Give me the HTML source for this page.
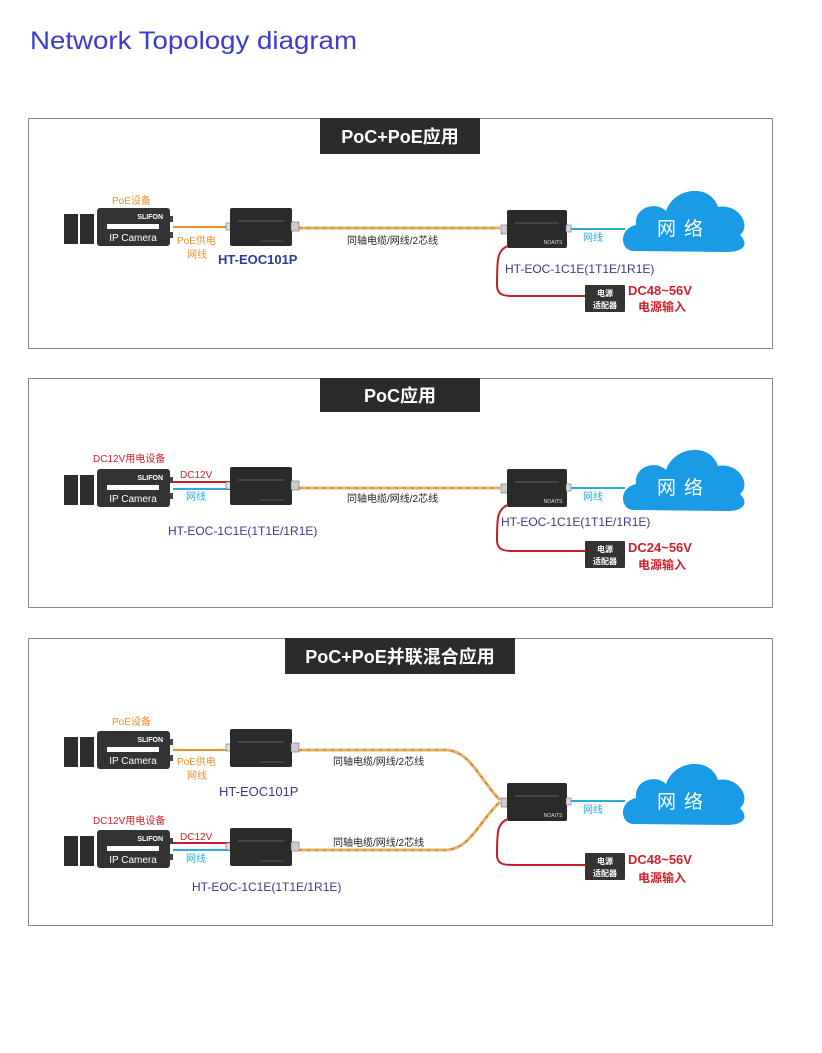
<!DOCTYPE html>
<html><head><meta charset="utf-8"><style>
html,body{margin:0;padding:0;background:#fff;width:822px;height:1053px;overflow:hidden}
svg{display:block}
text{font-family:"Liberation Sans","Noto Sans CJK SC",sans-serif}
</style></head><body>
<svg width="822" height="1053" viewBox="0 0 822 1053" xmlns="http://www.w3.org/2000/svg">
<defs>
<g id="cam">
<rect x="-33" y="6" width="14" height="30" fill="#2c2c2c"/>
<rect x="-17" y="6" width="14" height="30" fill="#2c2c2c"/>
<rect x="0" y="0" width="73" height="38" rx="3" fill="#333"/>
<rect x="73" y="8" width="3" height="6" fill="#444"/>
<rect x="73" y="24" width="3" height="6" fill="#444"/>
<rect x="10" y="16" width="52" height="5" fill="#fff"/>
<text x="66" y="11" font-size="7" fill="#fff" text-anchor="end" font-weight="bold">SLIFON</text>
<text x="36" y="33" font-size="10" fill="#fff" text-anchor="middle">IP Camera</text>
</g>
<g id="dev">
<rect x="-4" y="15" width="5" height="7" fill="#ddd" stroke="#555" stroke-width="0.5"/>
<rect x="0" y="0" width="62" height="38" rx="2" fill="#2a2a2a"/>
<rect x="61" y="14" width="8" height="9" fill="#ccc" stroke="#555" stroke-width="0.5"/>
<line x1="8" y1="13" x2="54" y2="13" stroke="#777" stroke-width="0.7"/>
<line x1="30" y1="33" x2="54" y2="33" stroke="#666" stroke-width="0.7"/>
</g>
<g id="devR">
<rect x="-6" y="15" width="7" height="9" fill="#ccc" stroke="#555" stroke-width="0.5"/>
<rect x="0" y="0" width="60" height="38" rx="2" fill="#2a2a2a"/>
<rect x="59" y="15" width="5" height="7" fill="#ddd" stroke="#555" stroke-width="0.5"/>
<line x1="8" y1="13" x2="52" y2="13" stroke="#777" stroke-width="0.7"/>
<text x="46" y="34" font-size="5" fill="#ddd" text-anchor="middle">NOAITS</text>
</g>
<g id="cloud">
<path d="M14,66 C0,66 -2,44 16,40 C14,22 36,16 46,26 C54,2 90,-2 98,22 C118,18 132,40 120,50 C130,60 122,67 108,67 Z" fill="#1a9be6"/>
<text x="64" y="50" font-size="19" fill="#fff" text-anchor="middle" letter-spacing="8">网络</text>
</g>
<g id="pwr">
<rect x="0" y="0" width="40" height="27" rx="1" fill="#333"/>
<text x="20" y="11" font-size="8" fill="#fff" text-anchor="middle" font-weight="bold">电源</text>
<text x="20" y="23" font-size="8" fill="#fff" text-anchor="middle" font-weight="bold">适配器</text>
</g>
</defs>

<text x="30" y="49" font-size="25" fill="#3b3bcc" textLength="327" lengthAdjust="spacingAndGlyphs">Network Topology diagram</text>

<!-- Panel 1 -->
<rect x="28.5" y="118.5" width="744" height="230" fill="#fff" stroke="#888"/>
<rect x="320" y="118" width="160" height="36" fill="#2b2b2b"/>
<text x="400" y="143" font-size="18" fill="#fff" text-anchor="middle" font-weight="bold">PoC+PoE应用</text>
<use href="#cam" x="97" y="208"/>
<text x="112" y="204" font-size="10" fill="#e8912e">PoE设备</text>
<line x1="173" y1="227" x2="230" y2="227" stroke="#f0902a" stroke-width="2"/>
<text x="177" y="244" font-size="10" fill="#e8912e">PoE供电</text>
<text x="187" y="258" font-size="10" fill="#e8912e">网线</text>
<line x1="299" y1="228" x2="500" y2="228" stroke="#e8b060" stroke-width="3"/>
<line x1="299" y1="228" x2="500" y2="228" stroke="#8a6a40" stroke-width="0.8" stroke-dasharray="3 5"/>
<use href="#dev" x="230" y="208"/>
<text x="218" y="264" font-size="13" fill="#2b3aa0" font-weight="bold">HT-EOC101P</text>
<text x="347" y="244" font-size="10" fill="#222">同轴电缆/网线/2芯线</text>
<use href="#devR" x="507" y="210"/>
<line x1="571" y1="229" x2="625" y2="229" stroke="#2aaad8" stroke-width="2"/>
<text x="583" y="241" font-size="10" fill="#2aaad8">网线</text>
<use href="#cloud" x="620" y="185"/>
<path d="M508,246 C497,250 497,260 497,285 C497,296 505,296 515,296 L585,296" fill="none" stroke="#c0202a" stroke-width="2"/>
<text x="505" y="273" font-size="12" fill="#3a3a8a">HT-EOC-1C1E(1T1E/1R1E)</text>
<use href="#pwr" x="585" y="285"/>
<text x="628" y="295" font-size="13" fill="#d0202a" font-weight="bold">DC48~56V</text>
<text x="638" y="311" font-size="12" fill="#d0202a" font-weight="bold">电源输入</text>

<!-- Panel 2 -->
<rect x="28.5" y="378.5" width="744" height="229" fill="#fff" stroke="#888"/>
<rect x="320" y="378" width="160" height="34" fill="#2b2b2b"/>
<text x="400" y="402" font-size="18" fill="#fff" text-anchor="middle" font-weight="bold">PoC应用</text>
<use href="#cam" x="97" y="469"/>
<text x="93" y="462" font-size="10" fill="#d0202a">DC12V用电设备</text>
<line x1="173" y1="482" x2="230" y2="482" stroke="#c0202a" stroke-width="2"/>
<line x1="173" y1="489" x2="230" y2="489" stroke="#2aaad8" stroke-width="2"/>
<text x="180" y="478" font-size="10" fill="#d0202a">DC12V</text>
<text x="186" y="500" font-size="10" fill="#2aaad8">网线</text>
<line x1="299" y1="488" x2="500" y2="488" stroke="#e8b060" stroke-width="3"/>
<line x1="299" y1="488" x2="500" y2="488" stroke="#8a6a40" stroke-width="0.8" stroke-dasharray="3 5"/>
<use href="#dev" x="230" y="467"/>
<text x="168" y="535" font-size="12" fill="#3a3a8a">HT-EOC-1C1E(1T1E/1R1E)</text>
<text x="347" y="502" font-size="10" fill="#222">同轴电缆/网线/2芯线</text>
<use href="#devR" x="507" y="469"/>
<line x1="571" y1="488" x2="625" y2="488" stroke="#2aaad8" stroke-width="2"/>
<text x="583" y="500" font-size="10" fill="#2aaad8">网线</text>
<use href="#cloud" x="620" y="444"/>
<path d="M508,505 C497,509 497,519 497,540 C497,551 505,551 515,551 L585,551" fill="none" stroke="#c0202a" stroke-width="2"/>
<text x="501" y="526" font-size="12" fill="#3a3a8a">HT-EOC-1C1E(1T1E/1R1E)</text>
<use href="#pwr" x="585" y="541"/>
<text x="628" y="552" font-size="13" fill="#d0202a" font-weight="bold">DC24~56V</text>
<text x="638" y="569" font-size="12" fill="#d0202a" font-weight="bold">电源输入</text>

<!-- Panel 3 -->
<rect x="28.5" y="638.5" width="744" height="287" fill="#fff" stroke="#888"/>
<rect x="285" y="638" width="230" height="36" fill="#2b2b2b"/>
<text x="400" y="663" font-size="18" fill="#fff" text-anchor="middle" font-weight="bold">PoC+PoE并联混合应用</text>
<use href="#cam" x="97" y="731"/>
<text x="112" y="725" font-size="10" fill="#e8912e">PoE设备</text>
<line x1="173" y1="750" x2="230" y2="750" stroke="#f0902a" stroke-width="2"/>
<text x="177" y="765" font-size="10" fill="#e8912e">PoE供电</text>
<text x="187" y="779" font-size="10" fill="#e8912e">网线</text>
<use href="#dev" x="230" y="729"/>
<text x="219" y="796" font-size="13" fill="#3a3a8a">HT-EOC101P</text>
<path d="M299,750 L445,750 C470,750 480,780 500,800" fill="none" stroke="#e8b060" stroke-width="3"/>
<path d="M299,750 L445,750 C470,750 480,780 500,800" fill="none" stroke="#8a6a40" stroke-width="0.8" stroke-dasharray="3 5"/>
<text x="333" y="765" font-size="10" fill="#222">同轴电缆/网线/2芯线</text>

<use href="#cam" x="97" y="830"/>
<text x="93" y="824" font-size="10" fill="#d0202a">DC12V用电设备</text>
<line x1="173" y1="843" x2="230" y2="843" stroke="#c0202a" stroke-width="2"/>
<line x1="173" y1="850" x2="230" y2="850" stroke="#2aaad8" stroke-width="2"/>
<text x="180" y="840" font-size="10" fill="#d0202a">DC12V</text>
<text x="186" y="862" font-size="10" fill="#2aaad8">网线</text>
<use href="#dev" x="230" y="828"/>
<text x="192" y="891" font-size="12" fill="#3a3a8a">HT-EOC-1C1E(1T1E/1R1E)</text>
<path d="M299,850 L445,850 C470,850 480,820 500,802" fill="none" stroke="#e8b060" stroke-width="3"/>
<path d="M299,850 L445,850 C470,850 480,820 500,802" fill="none" stroke="#8a6a40" stroke-width="0.8" stroke-dasharray="3 5"/>
<text x="333" y="846" font-size="10" fill="#222">同轴电缆/网线/2芯线</text>

<use href="#devR" x="507" y="783"/>
<line x1="571" y1="801" x2="625" y2="801" stroke="#2aaad8" stroke-width="2"/>
<text x="583" y="813" font-size="10" fill="#2aaad8">网线</text>
<use href="#cloud" x="620" y="758"/>
<path d="M508,819 C497,823 497,833 497,855 C497,865 505,865 515,865 L585,865" fill="none" stroke="#c0202a" stroke-width="2"/>
<use href="#pwr" x="585" y="853"/>
<text x="628" y="864" font-size="13" fill="#d0202a" font-weight="bold">DC48~56V</text>
<text x="638" y="882" font-size="12" fill="#d0202a" font-weight="bold">电源输入</text>
</svg>
</body></html>
